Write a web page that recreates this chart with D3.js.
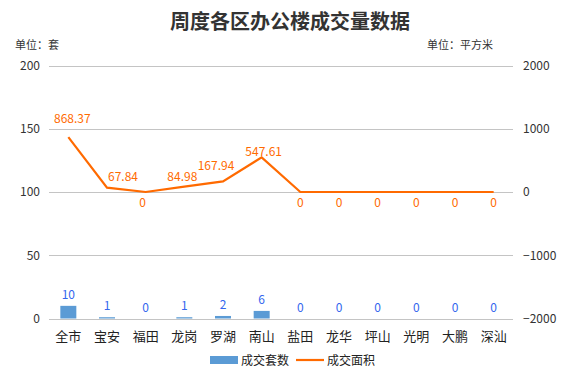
<!DOCTYPE html>
<html><head><meta charset="utf-8">
<script src="https://cdn.jsdelivr.net/npm/d3@7/dist/d3.min.js"></script>
<style>body{margin:0;background:#fff}svg{display:block}</style>
</head><body><svg id="c" width="581" height="372"></svg>
<script>
const categories = ["全市","宝安","福田","龙岗","罗湖","南山","盐田","龙华","坪山","光明","大鹏","深汕"];
const counts = [10,1,0,1,2,6,0,0,0,0,0,0];
const areas = [868.37,67.84,0,84.98,167.94,547.61,0,0,0,0,0,0];
const areaLabels = ["868.37","67.84","0","84.98","167.94","547.61","0","0","0","0","0","0"];
const leftTicks = [0,50,100,150,200];
const rightTicks = [-2000,-1000,0,1000,2000];
// label placement nudges (style, not data)
const labelDx = [4,16,-3,-2,-7,2,0,0,0,0,0,0];
const labelDy = [-19,-11,10,-10,-16,-6,10,10,10,10,10,10];

const font = "'Noto Sans CJK SC','Noto Sans',sans-serif";
const svg = d3.select("#c");
const m = {l:49, r:513, t:65.5, b:318.5};
const x = d3.scaleBand().domain(categories).range([m.l, m.r]);
const yL = d3.scaleLinear().domain([0,200]).range([m.b, m.t]);
const yR = d3.scaleLinear().domain([-2000,2000]).range([m.b, m.t]);

svg.append("text").attr("x",290).attr("y",29).attr("text-anchor","middle")
  .attr("font-family",font).attr("font-weight","bold").attr("font-size",20).attr("fill","#333")
  .text("周度各区办公楼成交量数据");
svg.append("text").attr("x",15).attr("y",49).attr("font-family",font).attr("font-size",11).attr("fill","#333").text("单位：套");
svg.append("text").attr("x",493).attr("y",49).attr("text-anchor","end").attr("font-family",font).attr("font-size",11).attr("fill","#333").text("单位：平方米");

// gridlines
svg.append("g").selectAll("line").data(leftTicks).join("line")
  .attr("x1",m.l).attr("x2",m.r).attr("y1",d=>Math.round(yL(d))+0.5).attr("y2",d=>Math.round(yL(d))+0.5)
  .attr("stroke","#c4c4c4").attr("stroke-width",1);

// left axis
const gl = svg.append("g").attr("transform",`translate(${m.l-9},0)`)
  .call(d3.axisLeft(yL).tickValues(leftTicks).tickSize(0).tickPadding(0));
gl.select(".domain").remove();
gl.selectAll("text").attr("font-family",font).attr("font-size",12).attr("fill","#333");
// right axis
const gr = svg.append("g").attr("transform",`translate(${m.r+10},0)`)
  .call(d3.axisRight(yR).tickValues(rightTicks).tickSize(0).tickPadding(0).tickFormat(d=>d<0?"\u2212"+Math.abs(d):d));
gr.select(".domain").remove();
gr.selectAll("text").attr("font-family",font).attr("font-size",12).attr("fill","#333");

// category labels
svg.append("g").selectAll("text").data(categories).join("text")
  .attr("x",d=>x(d)+x.bandwidth()/2).attr("y",341).attr("text-anchor","middle")
  .attr("font-family",font).attr("font-size",13).attr("fill","#222").text(d=>d);

// bars
const bw = 16;
svg.append("g").selectAll("rect").data(counts).join("rect")
  .attr("x",(d,i)=>x(categories[i])+x.bandwidth()/2-bw/2).attr("width",bw)
  .attr("y",d=>yL(d)).attr("height",d=>yL(0)-yL(d)).attr("fill","#5b9bd5");
svg.append("g").selectAll("text").data(counts).join("text")
  .attr("x",(d,i)=>x(categories[i])+x.bandwidth()/2).attr("y",d=>yL(d)-7)
  .attr("text-anchor","middle").attr("font-family",font).attr("font-size",12).attr("fill","#3366ee").text(d=>d);

// line
const line = d3.line().x((d,i)=>x(categories[i])+x.bandwidth()/2).y(d=>yR(d));
svg.append("path").datum(areas).attr("d",line).attr("fill","none").attr("stroke","#ff6a00").attr("stroke-width",2.2);
svg.append("g").selectAll("text").data(areas).join("text")
  .attr("x",(d,i)=>x(categories[i])+x.bandwidth()/2+labelDx[i])
  .attr("y",(d,i)=>yR(d)+labelDy[i]+4.5)
  .attr("text-anchor","middle").attr("font-family",font).attr("font-size",12).attr("fill","#ff6a00")
  .text((d,i)=>areaLabels[i]);

// legend
svg.append("rect").attr("x",210).attr("y",356).attr("width",28).attr("height",8).attr("fill","#5b9bd5");
svg.append("text").attr("x",241).attr("y",365).attr("font-family",font).attr("font-size",12).attr("fill","#222").text("成交套数");
svg.append("line").attr("x1",296).attr("x2",324).attr("y1",360).attr("y2",360).attr("stroke","#ff6a00").attr("stroke-width",2.2);
svg.append("text").attr("x",327).attr("y",365).attr("font-family",font).attr("font-size",12).attr("fill","#222").text("成交面积");
</script></body></html>
